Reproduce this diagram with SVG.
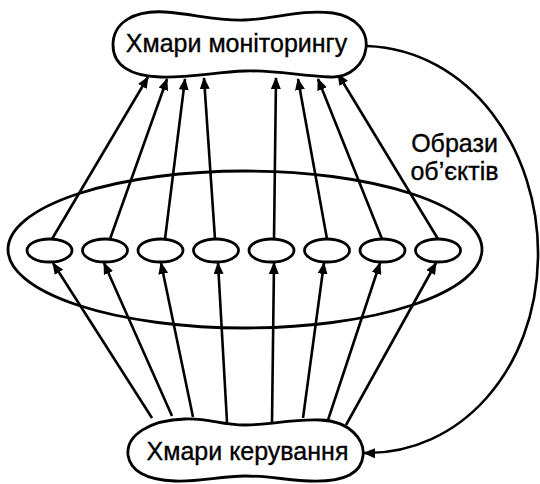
<svg xmlns="http://www.w3.org/2000/svg" width="540" height="484" viewBox="0 0 540 484">
<style>
.s{fill:none;stroke:#000;stroke-width:2.8}
.n{fill:#fff;stroke:#000;stroke-width:2.8}
.c{fill:none;stroke:#000;stroke-width:2.6}
.t{font-family:"Liberation Sans",Arial,sans-serif;font-size:25px;fill:#000;stroke:#000;stroke-width:0.35;text-anchor:middle}
</style>
<defs>
<marker id="a" viewBox="0 0 12 10" refX="11" refY="5" markerWidth="12" markerHeight="10" markerUnits="userSpaceOnUse" orient="auto">
<path d="M0,0 L12,5 L0,10 Z" fill="#000"/>
</marker>
</defs>
<rect width="540" height="484" fill="#fff"/>
<g id="layer">
<ellipse class="s" cx="245" cy="249.5" rx="237" ry="78.5"/>
</g>
<g id="connectors">
<line class="c" x1="52" y1="239" x2="148" y2="77" marker-end="url(#a)"/>
<line class="c" x1="110" y1="239" x2="167" y2="79" marker-end="url(#a)"/>
<line class="c" x1="165" y1="239" x2="185" y2="79" marker-end="url(#a)"/>
<line class="c" x1="215" y1="239" x2="204" y2="78" marker-end="url(#a)"/>
<line class="c" x1="274" y1="239" x2="276" y2="78" marker-end="url(#a)"/>
<line class="c" x1="327" y1="239" x2="298" y2="79" marker-end="url(#a)"/>
<line class="c" x1="382" y1="239" x2="318" y2="79" marker-end="url(#a)"/>
<line class="c" x1="438" y1="239" x2="338" y2="74" marker-end="url(#a)"/>
<line class="c" x1="152" y1="418" x2="53" y2="263" marker-end="url(#a)"/>
<line class="c" x1="172" y1="416" x2="104" y2="263" marker-end="url(#a)"/>
<line class="c" x1="193" y1="417" x2="161" y2="263" marker-end="url(#a)"/>
<line class="c" x1="227" y1="422" x2="218" y2="263" marker-end="url(#a)"/>
<line class="c" x1="272" y1="422" x2="274" y2="263" marker-end="url(#a)"/>
<line class="c" x1="303" y1="418" x2="324" y2="263" marker-end="url(#a)"/>
<line class="c" x1="328" y1="420" x2="380" y2="263" marker-end="url(#a)"/>
<line class="c" x1="346" y1="425" x2="436" y2="263" marker-end="url(#a)"/>
<path class="c" d="M367,46 C470,50 540,150 538,258 C536,370 460,455 364,453" marker-end="url(#a)"/>
</g>
<g id="obj1"><ellipse class="n" cx="49.5" cy="250.5" rx="22.5" ry="11.5"/></g>
<g id="obj2"><ellipse class="n" cx="105" cy="250.5" rx="22.5" ry="11.5"/></g>
<g id="obj3"><ellipse class="n" cx="160.5" cy="250.5" rx="22.5" ry="11.5"/></g>
<g id="obj4"><ellipse class="n" cx="216" cy="250.5" rx="22.5" ry="11.5"/></g>
<g id="obj5"><ellipse class="n" cx="271.5" cy="250.5" rx="22.5" ry="11.5"/></g>
<g id="obj6"><ellipse class="n" cx="327" cy="250.5" rx="22.5" ry="11.5"/></g>
<g id="obj7"><ellipse class="n" cx="382.5" cy="250.5" rx="22.5" ry="11.5"/></g>
<g id="obj8"><ellipse class="n" cx="438" cy="250.5" rx="22.5" ry="11.5"/></g>
<g id="monitoring">
<path class="n" d="M113,45 C113,22 135,10 165,12 C195,14 215,21 245,20 C275,19 300,9 333,13 C358,17 368,33 366,48 C364,64 350,78 330,77 C300,76 275,70 245,71 C215,72 190,78 160,77 C130,76 113,65 113,45 Z"/>
<text class="t" x="236.5" y="52">Хмари моніторингу</text>
</g>
<g id="control">
<path class="n" d="M128,455 C126,435 150,420 185,419 C210,418 220,425 245,425 C270,425 290,419 320,420 C350,421 365,440 363,456 C361,475 340,482 310,481 C285,480 270,476 245,476 C220,476 200,482 175,481 C145,480 130,470 128,455 Z"/>
<text class="t" x="247.5" y="460">Хмари керування</text>
</g>
<g id="label">
<text class="t" x="454.5" y="152">Образи</text>
<text class="t" x="454.5" y="180">об’єктів</text>
</g>
</svg>
